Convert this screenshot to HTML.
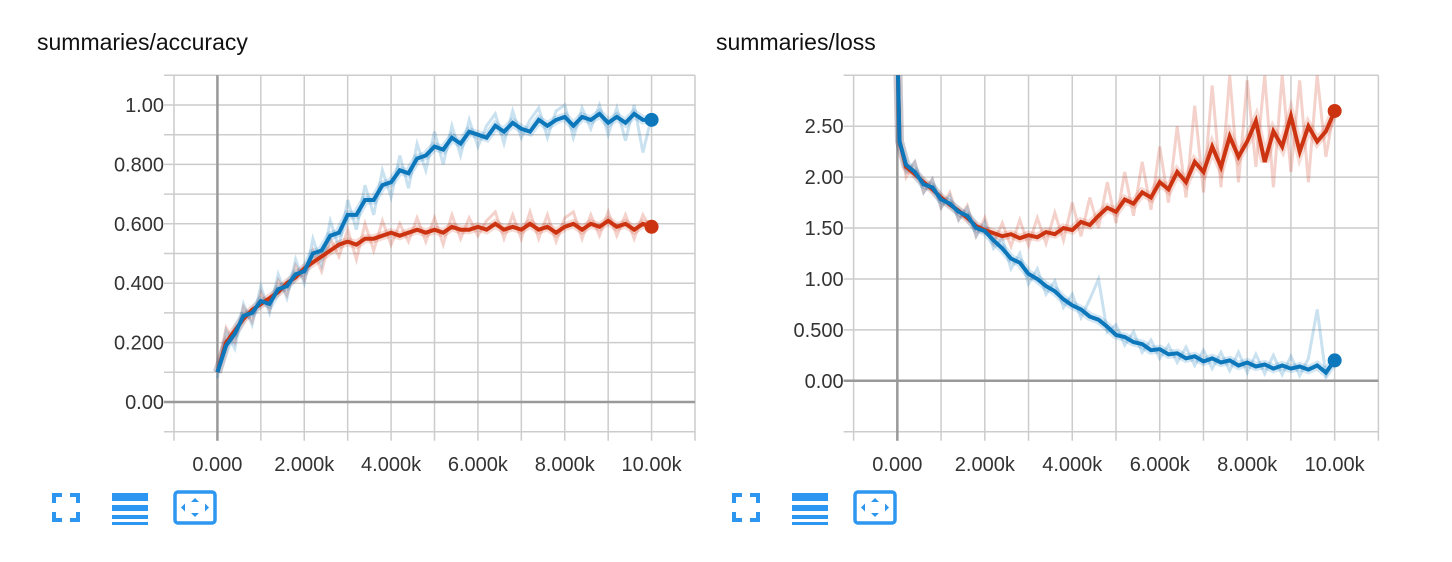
<!DOCTYPE html>
<html><head><meta charset="utf-8">
<style>
body{margin:0;background:#fff;width:1452px;height:562px;overflow:hidden;font-family:"Liberation Sans",sans-serif;}
svg{position:absolute;left:0;top:0}
</style></head>
<body>
<svg id="svg" width="1452" height="562"></svg>
<script>
const steps=[0,200,400,600,800,1000,1200,1400,1600,1800,2000,2200,2400,2600,2800,3000,3200,3400,3600,3800,4000,4200,4400,4600,4800,5000,5200,5400,5600,5800,6000,6200,6400,6600,6800,7000,7200,7400,7600,7800,8000,8200,8400,8600,8800,9000,9200,9400,9600,9800,10000];
const accBlue=[0.10,0.19,0.23,0.29,0.30,0.34,0.33,0.38,0.39,0.43,0.44,0.50,0.51,0.56,0.57,0.63,0.63,0.68,0.68,0.73,0.74,0.78,0.77,0.82,0.83,0.86,0.85,0.89,0.87,0.91,0.90,0.89,0.93,0.91,0.94,0.92,0.91,0.95,0.93,0.95,0.96,0.93,0.96,0.95,0.97,0.94,0.96,0.94,0.97,0.95,0.95];
const accRed=[0.10,0.20,0.24,0.28,0.31,0.33,0.35,0.37,0.40,0.42,0.45,0.47,0.49,0.51,0.53,0.54,0.53,0.55,0.55,0.56,0.57,0.56,0.57,0.58,0.57,0.58,0.57,0.59,0.58,0.58,0.59,0.58,0.60,0.58,0.59,0.58,0.60,0.58,0.59,0.57,0.59,0.60,0.58,0.60,0.59,0.61,0.59,0.60,0.58,0.60,0.59];
const accBlueRaw=[0.08,0.24,0.18,0.33,0.26,0.39,0.30,0.43,0.35,0.48,0.40,0.55,0.46,0.61,0.52,0.68,0.58,0.73,0.63,0.78,0.69,0.83,0.72,0.87,0.78,0.91,0.80,0.93,0.83,0.95,0.86,0.93,0.97,0.87,0.98,0.89,0.95,0.99,0.89,0.98,1.00,0.89,0.99,0.92,1.00,0.90,0.99,0.88,1.00,0.84,0.96];
const accRedRaw=[0.10,0.25,0.20,0.32,0.27,0.37,0.31,0.41,0.36,0.46,0.41,0.51,0.44,0.55,0.49,0.58,0.48,0.60,0.51,0.61,0.53,0.60,0.54,0.62,0.54,0.62,0.53,0.63,0.55,0.62,0.56,0.61,0.64,0.55,0.63,0.55,0.64,0.55,0.63,0.54,0.62,0.64,0.55,0.63,0.56,0.64,0.56,0.63,0.55,0.63,0.58];
const lossSteps=[0,50,200,400,600,800,1000,1200,1400,1600,1800,2000,2200,2400,2600,2800,3000,3200,3400,3600,3800,4000,4200,4400,4600,4800,5000,5200,5400,5600,5800,6000,6200,6400,6600,6800,7000,7200,7400,7600,7800,8000,8200,8400,8600,8800,9000,9200,9400,9600,9800,10000];
const lossBlue=[3.3,2.35,2.12,2.05,1.93,1.90,1.78,1.74,1.66,1.62,1.50,1.47,1.38,1.30,1.20,1.16,1.05,1.00,0.93,0.88,0.80,0.74,0.70,0.63,0.60,0.53,0.45,0.43,0.38,0.36,0.30,0.31,0.26,0.27,0.22,0.24,0.19,0.22,0.18,0.20,0.15,0.18,0.14,0.16,0.12,0.15,0.12,0.14,0.11,0.15,0.08,0.20];
const lossRed=[3.3,2.35,2.10,2.03,1.95,1.88,1.80,1.73,1.67,1.60,1.52,1.48,1.45,1.42,1.44,1.40,1.43,1.41,1.46,1.44,1.50,1.48,1.56,1.53,1.62,1.70,1.66,1.78,1.74,1.85,1.80,1.95,1.88,2.05,1.95,2.15,2.05,2.30,2.10,2.40,2.20,2.35,2.55,2.15,2.45,2.30,2.60,2.25,2.50,2.35,2.45,2.65];
const lossBlueRaw=[3.3,2.4,2.05,2.15,1.85,1.98,1.70,1.82,1.58,1.70,1.42,1.56,1.30,1.40,1.10,1.25,0.95,1.10,0.85,0.98,0.72,0.85,0.62,0.80,1.00,0.48,0.55,0.35,0.48,0.28,0.40,0.22,0.35,0.18,0.33,0.15,0.30,0.12,0.28,0.10,0.28,0.08,0.26,0.07,0.25,0.06,0.24,0.05,0.22,0.70,0.05,0.22];
const lossRedRaw=[3.3,2.4,2.0,2.15,1.85,1.98,1.70,1.85,1.58,1.72,1.42,1.60,1.35,1.55,1.32,1.58,1.33,1.60,1.35,1.65,1.38,1.75,1.42,1.80,1.50,1.95,1.55,2.05,1.62,2.15,1.68,2.30,1.75,2.50,1.80,2.70,1.85,2.90,1.90,3.00,1.95,2.95,2.10,3.00,1.90,3.00,2.05,2.95,1.95,3.00,2.20,2.70];
const xTickVals=[0,2000,4000,6000,8000,10000];
const xTickLabels=["0.000","2.000k","4.000k","6.000k","8.000k","10.00k"];
const accTickVals=[0,0.2,0.4,0.6,0.8,1.0];
const accTickLabels=["0.00","0.200","0.400","0.600","0.800","1.00"];
const lossTickVals=[0,0.5,1,1.5,2,2.5];
const lossTickLabels=["0.00","0.500","1.00","1.50","2.00","2.50"];

const NS="http://www.w3.org/2000/svg";
const svg=document.getElementById('svg');
function mk(tag,attrs,parent){const e=document.createElementNS(NS,tag);for(const k in attrs)e.setAttribute(k,attrs[k]);(parent||svg).appendChild(e);return e;}

function chart(o){
  const g=mk('g',{});
  
  
  const X=v=>o.x0+(v-o.xmin)/(o.xmax-o.xmin)*(o.x1-o.x0);
  const Y=v=>o.y1-(v-o.ymin)/(o.ymax-o.ymin)*(o.y1-o.y0);
  const t=mk('text',{x:o.tx,y:50,'font-size':23,fill:'#111'},g);
  t.textContent=o.title;
  
  
  for(let v=o.xmin;v<=o.xmax+1;v+=1000){
    const l=mk('line',{x1:X(v),x2:X(v),y1:o.y0,y2:o.y1+9,stroke:'#ccc','stroke-width':1.5},g);
    
    
  }
  for(let v=o.ymin;v<=o.ymax+1e-6;v+=o.minor){
    const l=mk('line',{x1:o.x0-10,x2:o.x1,y1:Y(v),y2:Y(v),stroke:'#ccc','stroke-width':1.5},g);
    
    
  }
  mk('line',{x1:X(0),x2:X(0),y1:o.y0,y2:o.y1+9,stroke:'#999','stroke-width':2.5},g);
  mk('line',{x1:o.x0-10,x2:o.x1,y1:Y(0),y2:Y(0),stroke:'#999','stroke-width':2.5},g);
  xTickVals.forEach((v,i)=>{const tt=mk('text',{x:X(v),y:471,'font-size':20,fill:'#333','text-anchor':'middle'},g);tt.textContent=xTickLabels[i];
    
    });
  o.yt.forEach((v,i)=>{const tt=mk('text',{x:o.x0-10,y:Y(v)+7,'font-size':20,fill:'#333','text-anchor':'end'},g);tt.textContent=o.yl[i];
    
    });
  const cid='clip'+o.name;
  const cp=mk('clipPath',{id:cid},g);mk('rect',{x:o.x0,y:o.y0,width:o.x1-o.x0,height:o.y1-o.y0},cp);
  const pg=mk('g',{'clip-path':'url(#'+cid+')'},g);
  const path=(st,vals)=>vals.map((v,i)=>(i?'L':'M')+X(st[i]).toFixed(1)+','+Y(v).toFixed(1)).join('');
  o.series.forEach(s=>{
    const r=mk('path',{d:path(s.st,s.raw),fill:'none',stroke:s.c,'stroke-opacity':0.22,'stroke-width':3,'stroke-linejoin':'miter'},pg);
    
    
    const h=mk('path',{d:path(s.st,s.vals),fill:'none',stroke:s.c,'stroke-opacity':0.18,'stroke-width':9},pg);
    
    
  });
  o.series.forEach(s=>{
    const p=mk('path',{d:path(s.st,s.vals),fill:'none',stroke:s.c,'stroke-width':4,'stroke-linejoin':'miter'},pg);
    
    
    const last=s.vals.length-1;
    const c=mk('circle',{cx:X(s.st[last]),cy:Y(s.vals[last]),r:7,fill:s.c},g);
    
    
  });
  const ix=o.iconX, iy=493, ic='#2d96f0';
  const fs=mk('path',{d:`M${ix+2} ${iy+10}V${iy+2}H${ix+10} M${ix+18} ${iy+2}H${ix+26}V${iy+10} M${ix+26} ${iy+19}V${iy+27}H${ix+18} M${ix+10} ${iy+27}H${ix+2}V${iy+19}`,fill:'none',stroke:ic,'stroke-width':4},g);
  
  
  const lg=mk('g',{},g);
  
  
  mk('rect',{x:ix+60,y:iy,width:36,height:8,fill:ic},lg);
  mk('rect',{x:ix+60,y:iy+12,width:36,height:6,fill:ic},lg);
  mk('rect',{x:ix+60,y:iy+22,width:36,height:4,fill:ic},lg);
  mk('rect',{x:ix+60,y:iy+29,width:36,height:3,fill:ic},lg);
  const fg=mk('g',{},g);
  
  
  mk('rect',{x:ix+123,y:iy-1,width:40,height:31,rx:3,fill:'none',stroke:ic,'stroke-width':3.5},fg);
  mk('path',{d:`M${ix+143} ${iy+5}l-4 4h8z M${ix+143} ${iy+24}l-4 -4h8z M${ix+129} ${iy+14.5}l4 -4v8z M${ix+157} ${iy+14.5}l-4 -4v8z`,fill:ic},fg);
}
chart({name:'accuracy-chart',title:'summaries/accuracy',tx:37,x0:174,x1:695,y0:75.3,y1:431.7,xmin:-1000,xmax:11000,ymin:-0.1,ymax:1.1,minor:0.1,yt:accTickVals,yl:accTickLabels,iconX:52,
  series:[{n:'validation-accuracy',st:steps,vals:accRed,raw:accRedRaw,c:'#cc3311'},{n:'train-accuracy',st:steps,vals:accBlue,raw:accBlueRaw,c:'#0c77bb'}]});
chart({name:'loss-chart',title:'summaries/loss',tx:716,x0:853.6,x1:1378.4,y0:75.3,y1:431.7,xmin:-1000,xmax:11000,ymin:-0.5,ymax:3.0,minor:0.5,yt:lossTickVals,yl:lossTickLabels,iconX:732,
  series:[{n:'validation-loss',st:lossSteps,vals:lossRed,raw:lossRedRaw,c:'#cc3311'},{n:'train-loss',st:lossSteps,vals:lossBlue,raw:lossBlueRaw,c:'#0c77bb'}]});
</script>
</body></html>
